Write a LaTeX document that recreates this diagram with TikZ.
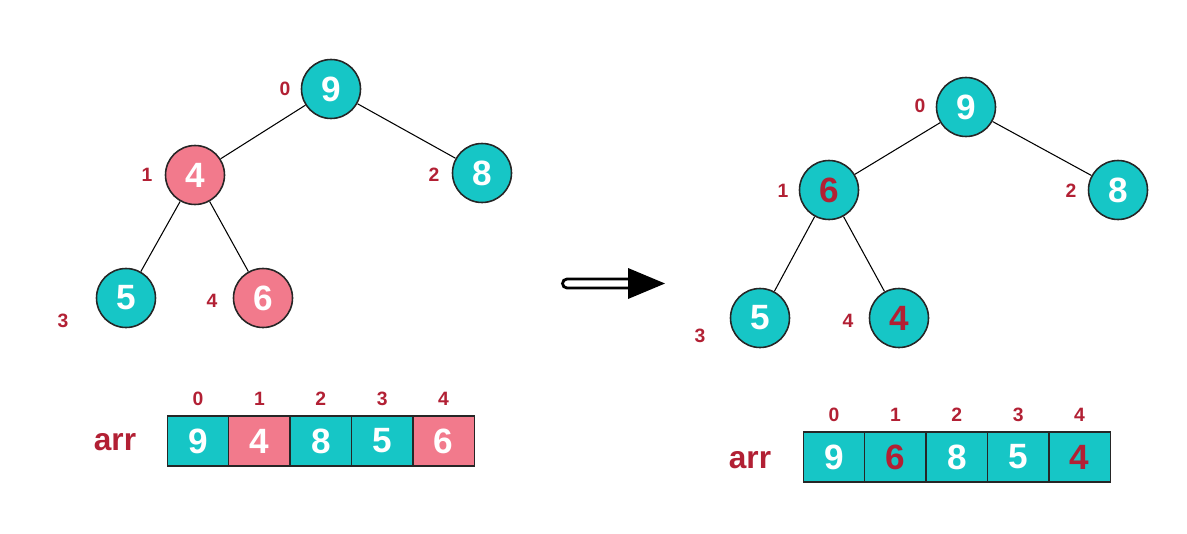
\documentclass[tikz,border=0pt]{standalone}
\usepackage{fontspec}
\setmainfont{Liberation Sans}
\usetikzlibrary{positioning}
\definecolor{heapteal}{RGB}{22,198,198}
\definecolor{heappink}{RGB}{242,122,140}
\definecolor{idxred}{RGB}{178,32,52}
\begin{document}
\begin{tikzpicture}[x=0.02cm, y=-0.02cm,
  hnode/.style={circle, draw=black!85, line width=0.9pt, fill=#1, minimum size=1.18cm,
                inner sep=0pt, font=\fontsize{20}{20}\selectfont\bfseries, text=white},
  cell/.style={rectangle, draw=black!85, line width=0.8pt, fill=#1, minimum width=1.228cm,
               minimum height=1.0cm, inner sep=0pt, font=\fontsize{20}{20}\selectfont\bfseries, text=white},
  idx/.style={font=\fontsize{11}{11}\selectfont\bfseries, text=idxred},
  arrname/.style={font=\fontsize{18}{18}\selectfont\bfseries, text=idxred},
  edge/.style={line width=0.6pt, black},
]
  \useasboundingbox (0,0) rectangle (1187,534);

  % left heap
  \node[hnode=heapteal] (a0) at (331,89)  {9};
  \node[hnode=heappink] (a1) at (195,175) {4};
  \node[hnode=heapteal] (a2) at (482,173) {8};
  \node[hnode=heapteal] (a3) at (126,298) {5};
  \node[hnode=heappink] (a4) at (263,298) {6};
  \draw[edge] (a0) -- (a1);
  \draw[edge] (a0) -- (a2);
  \draw[edge] (a1) -- (a3);
  \draw[edge] (a1) -- (a4);
  \node[idx] (la0) at (285,89)  {0};
  \node[idx] (la1) at (147,175) {1};
  \node[idx] (la2) at (434,175) {2};
  \node[idx] (la3) at (63,321)  {3};
  \node[idx] (la4) at (212,301) {4};

  % right heap
  \node[hnode=heapteal] (b0) at (966,107)  {9};
  \node[hnode=heapteal, text=idxred] (b1) at (829,190) {6};
  \node[hnode=heapteal] (b2) at (1118,190) {8};
  \node[hnode=heapteal] (b3) at (760,318)  {5};
  \node[hnode=heapteal, text=idxred] (b4) at (899,318) {4};
  \draw[edge] (b0) -- (b1);
  \draw[edge] (b0) -- (b2);
  \draw[edge] (b1) -- (b3);
  \draw[edge] (b1) -- (b4);
  \node[idx] (lb0) at (920,106)  {0};
  \node[idx] (lb1) at (783,191)  {1};
  \node[idx] (lb2) at (1071,191) {2};
  \node[idx] (lb3) at (700,336)  {3};
  \node[idx] (lb4) at (848,321)  {4};

  % left array
  \node[arrname] (arrA) at (115,442) {arr};
  \foreach \v/\c [count=\i from 0] in {9/heapteal,4/heappink,8/heapteal,5/heapteal,6/heappink} {
    \node[cell=\c] (ca\i) at ({198+61.4*\i},441) {\v};
    \node[idx, above=2pt of ca\i] (ia\i) {\i};
  }

  % right array
  \node[arrname] (arrB) at (750,460) {arr};
  \foreach \v/\t [count=\i from 0] in {9/white,6/idxred,8/white,5/white,4/idxred} {
    \node[cell=heapteal, text=\t] (cb\i) at ({834+61.4*\i},457) {\v};
    \node[idx, above=2pt of cb\i] (ib\i) {\i};
  }

  % transform arrow
  \draw[line width=1.6pt, fill=white] (630,279) -- (567,279) arc (270:90:4.5) -- (630,288);
  \fill[black] (628,268) -- (665,283.5) -- (628,299) -- cycle;
\end{tikzpicture}
\end{document}
